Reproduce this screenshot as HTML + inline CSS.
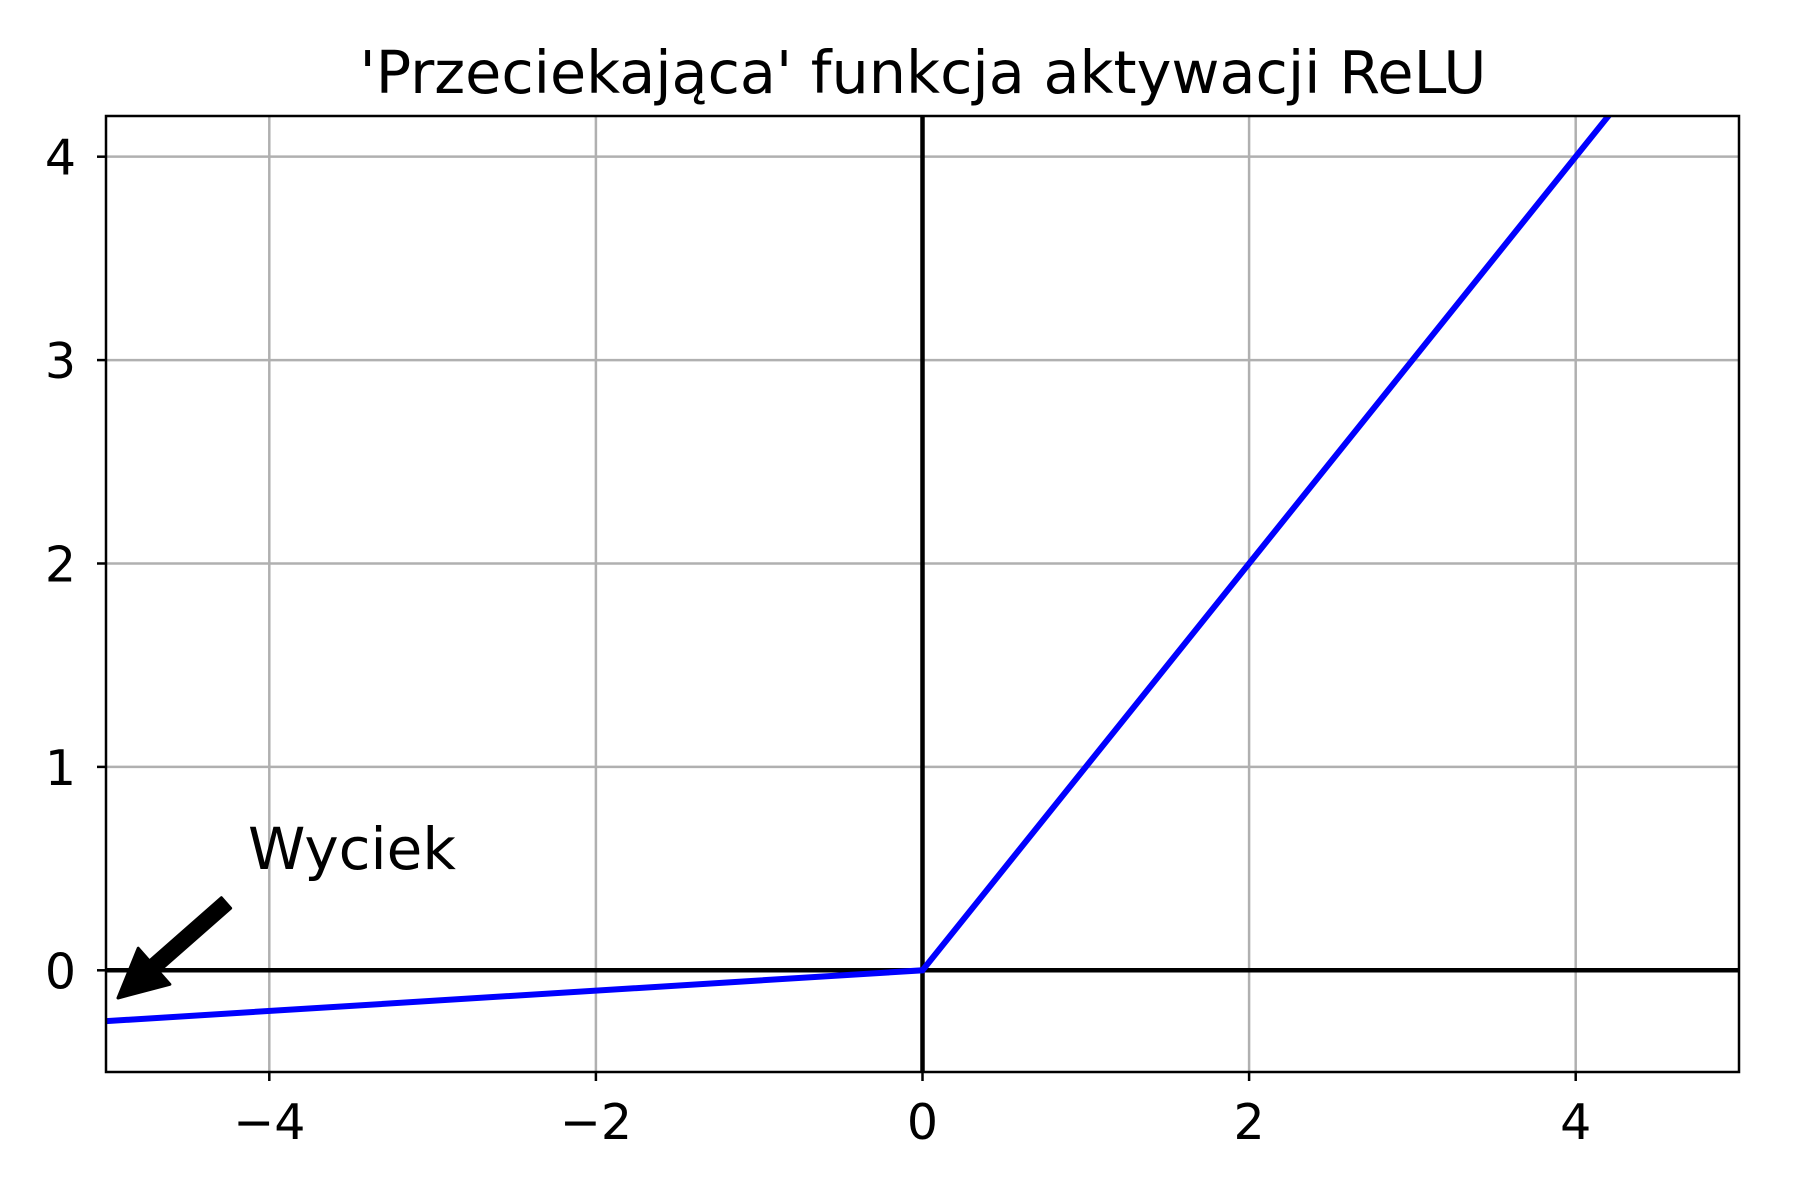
<!DOCTYPE html>
<html><head><meta charset="utf-8"><style>
html,body{margin:0;padding:0;background:#fff;}
svg{display:block;font-family:"DejaVu Sans","Liberation Sans",sans-serif;}
</style></head><body>
<svg id="chart" width="1800" height="1200" viewBox="0 0 1800 1200" xmlns="http://www.w3.org/2000/svg">
<rect width="1800" height="1200" fill="#fff"/>
<text x="923" y="93" font-size="58.8" text-anchor="middle">'Przeciekająca' funkcja aktywacji ReLU</text>
<g id="grid"></g>
<g id="axes0"></g>
<g id="series"></g>
<g id="ticks"></g>
<rect x="106" y="116" width="1633" height="956" fill="none" stroke="#000" stroke-width="2.5"/>
<text x="248" y="869" font-size="58">Wyciek</text>
<g id="arrow"></g>
</svg>
<script>
const xTicks=[-4,-2,0,2,4];
const yTicks=[0,1,2,3,4];
const xTickLabels=["\u22124","\u22122","0","2","4"];
const yTickLabels=["0","1","2","3","4"];
const lineX=[-5,0,5];
const lineY=[-0.25,0,5];
const xMin=-5,xMax=5,yMin=-0.5,yMax=4.2;
const L=106,R=1739,T=116,B=1072;
const sx=v=>L+(v-xMin)/(xMax-xMin)*(R-L);
const sy=v=>B-(v-yMin)/(yMax-yMin)*(B-T);
const NS="http://www.w3.org/2000/svg";
function mk(tag,attrs,parent){const e=document.createElementNS(NS,tag);for(const k in attrs)e.setAttribute(k,attrs[k]);parent.appendChild(e);return e;}
const grid=document.getElementById('grid'),ticks=document.getElementById('ticks');
xTicks.forEach((v,i)=>{
  const g=mk('line',{x1:sx(v),x2:sx(v),y1:T,y2:B,stroke:'#b0b0b0','stroke-width':2.5},grid);
  
  
  const t=mk('line',{x1:sx(v),x2:sx(v),y1:B,y2:B+9,stroke:'#000','stroke-width':2.5},ticks);
  
  
  const l=mk('text',{x:sx(v),y:1139,'font-size':49,'text-anchor':'middle'},ticks);
  l.textContent=xTickLabels[i];
  
  
});
yTicks.forEach((v,i)=>{
  const g=mk('line',{x1:L,x2:R,y1:sy(v),y2:sy(v),stroke:'#b0b0b0','stroke-width':2.5},grid);
  
  
  const t=mk('line',{x1:L-9,x2:L,y1:sy(v),y2:sy(v),stroke:'#000','stroke-width':2.5},ticks);
  
  
  const l=mk('text',{x:L-30,y:sy(v)+18,'font-size':49,'text-anchor':'end'},ticks);
  l.textContent=yTickLabels[i];
  
  
});
const ax=document.getElementById('axes0');
const h=mk('line',{x1:L,x2:R,y1:sy(0),y2:sy(0),stroke:'#000','stroke-width':4.5},ax);


const vv=mk('line',{x1:sx(0),x2:sx(0),y1:T,y2:B,stroke:'#000','stroke-width':4.5},ax);


const s=document.getElementById('series');
const cp=mk('clipPath',{id:'clip'},s);mk('rect',{x:L,y:T,width:R-L,height:B-T},cp);
const pts=lineX.map((x,i)=>sx(x)+','+sy(lineY[i])).join(' ');
const pl=mk('polyline',{points:pts,fill:'none',stroke:'#0000ff','stroke-width':6,'clip-path':'url(#clip)'},s);


const a=document.getElementById('arrow');
const x0=226,y0=903,x1=118,y1=998;
const dx=x1-x0,dy=y1-y0,len=Math.hypot(dx,dy),ux=dx/len,uy=dy/len,px=-uy,py=ux;
const hl=48,hw=24,sw=7;
const bx=x1-ux*hl,by=y1-uy*hl;
const P=[[x0+px*sw,y0+py*sw],[bx+px*sw,by+py*sw],[bx+px*hw,by+py*hw],[x1,y1],[bx-px*hw,by-py*hw],[bx-px*sw,by-py*sw],[x0-px*sw,y0-py*sw]];
const ar=mk('polygon',{points:P.map(p=>p.join(',')).join(' '),fill:'#000',stroke:'#000','stroke-width':3,'stroke-linejoin':'round'},a);


</script>
</body></html>
